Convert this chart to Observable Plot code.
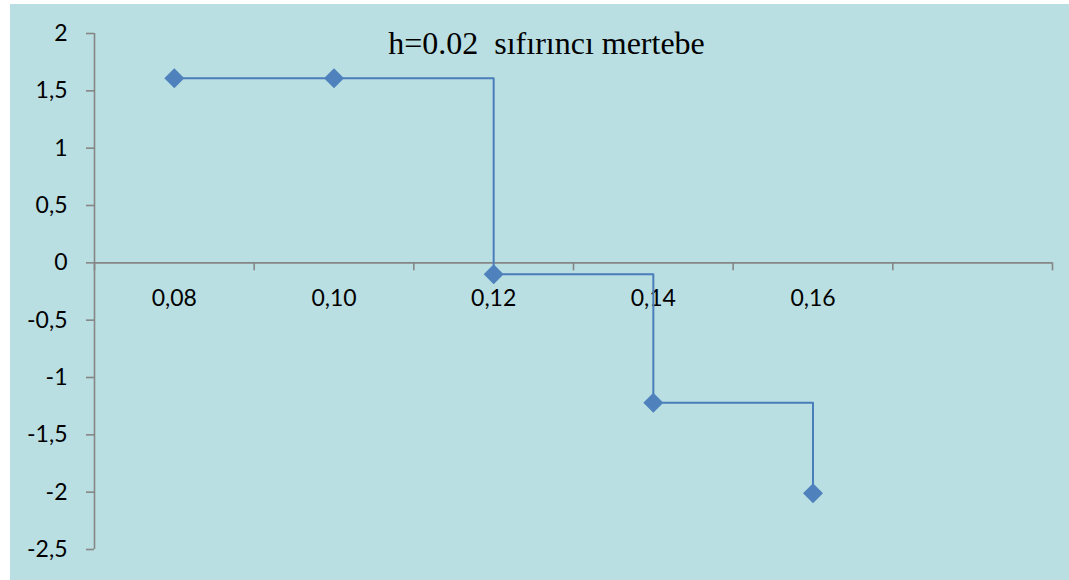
<!DOCTYPE html>
<html>
<head>
<meta charset="utf-8">
<script src="https://cdn.jsdelivr.net/npm/d3@7"></script>
<script src="https://cdn.jsdelivr.net/npm/@observablehq/plot@0.6"></script>
<style>
  html, body { margin: 0; padding: 0; background: #ffffff; }
  #wrap { position: relative; width: 1069px; height: 580px; overflow: hidden; }
  #bg { position: absolute; left: 10px; top: 4px; right: 0; bottom: 0; background: #b9dfe2; }
  #chart { position: absolute; left: 0; top: 0; }
  #chart svg { background: transparent; }
  #chart [aria-label="y-axis tick"] { stroke: #868686; stroke-width: 1.6; }
</style>
</head>
<body>
<div id="wrap"><div id="bg"></div><div id="chart"></div></div>
<script>
// Step size h and the zeroth-order approximation values
const title = "h=0.02\u00a0 sıfırıncı mertebe";
const xValues = [0.08, 0.10, 0.12, 0.14, 0.16];
const yValues = [1.61, 1.61, -0.10, -1.22, -2.01];

// Category boundaries on the horizontal axis and their labels
const xTickBounds = [0.07, 0.09, 0.11, 0.13, 0.15, 0.17, 0.19];
const xTickLabels = ["0,08", "0,10", "0,12", "0,14", "0,16"];
const yTicks = [-2.5, -2, -1.5, -1, -0.5, 0, 0.5, 1, 1.5, 2];

const points = xValues.map((x, i) => ({x, y: yValues[i]}));
const labels = xValues.map((x, i) => ({x, text: xTickLabels[i]}));

const axisGray = "#868686";
const blue = "#4a7ebb";
const commaFmt = d => String(d).replace(".", ",");

const chart = Plot.plot({
  width: 1069,
  height: 580,
  marginLeft: 94,
  marginRight: 17,
  marginTop: 33,
  marginBottom: 31,
  style: {background: "transparent", fontFamily: "Lato, sans-serif", color: "#000"},
  x: {domain: [0.07, 0.19], axis: null},
  y: {domain: [-2.5, 2], axis: null},
  marks: [
    // axis lines
    Plot.ruleX([0.07], {stroke: axisGray, strokeWidth: 1.6}),
    Plot.ruleY([0], {stroke: axisGray, strokeWidth: 1.6}),
    // category boundary ticks below the zero line
    Plot.ruleX(xTickBounds, {x: d => d, y1: 0, y2: 0, insetBottom: -8, stroke: axisGray, strokeWidth: 1.6}),
    Plot.axisY({
      ticks: yTicks,
      tickFormat: commaFmt,
      tickSize: 8,
      tickPadding: 19,
      fontSize: 23,
      label: null,
      stroke: axisGray,
      fill: "#000"
    }),
    Plot.text(labels, {
      x: "x", y: 0, text: "text",
      dy: 36, lineAnchor: "middle", textAnchor: "middle",
      fontSize: 23, fill: "#000"
    }),
    // series
    Plot.line(points, {x: "x", y: "y", curve: "step-after", stroke: blue, strokeWidth: 2}),
    Plot.dot(points, {x: "x", y: "y", symbol: "diamond2", r: 9, fill: "#4f81bd", stroke: "none"}),
    // chart title
    Plot.text([title], {
      frameAnchor: "top", dx: -27, dy: 10,
      fontFamily: "'Liberation Serif', 'Times New Roman', serif",
      fontSize: 32, fill: "#000", lineAnchor: "middle"
    })
  ]
});
document.getElementById("chart").appendChild(chart);
</script>
</body>
</html>
